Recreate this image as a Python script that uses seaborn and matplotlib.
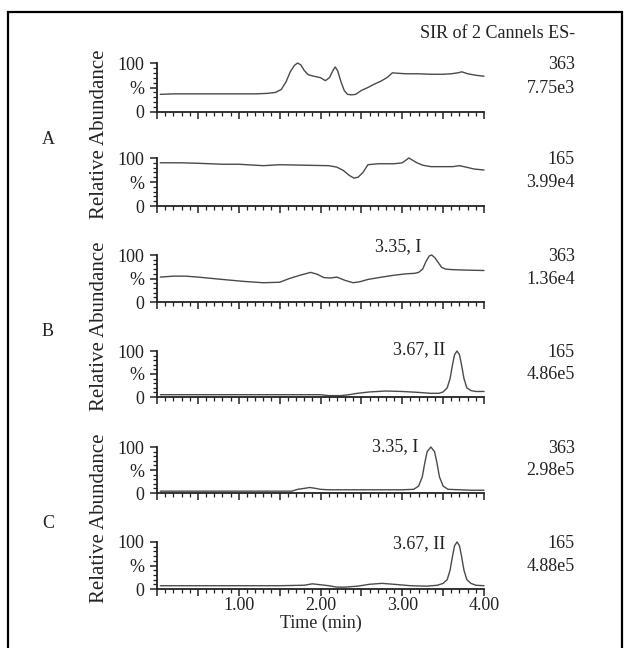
import numpy as np
import pandas as pd
import seaborn as sns
import matplotlib
matplotlib.use("Agg")
import matplotlib.pyplot as plt
from matplotlib.ticker import MultipleLocator, FuncFormatter
from matplotlib.patches import Rectangle

# ---- data (time in min, relative abundance in %) ----
t1 = [0.04, 0.2, 0.4, 0.6, 0.8, 1.0, 1.2, 1.35, 1.45, 1.52, 1.58, 1.63, 1.68, 1.72, 1.76, 1.8, 1.85, 1.92, 2.0, 2.06,
      2.11, 2.15, 2.18, 2.21, 2.25, 2.29, 2.33, 2.38, 2.43, 2.5, 2.58, 2.66, 2.74, 2.82, 2.88, 2.95, 3.05, 3.2, 3.35,
      3.5, 3.6, 3.68, 3.73, 3.8, 3.9, 4.0]
y1 = [36, 37, 37, 37, 37, 37, 37, 38, 40, 46, 62, 82, 95, 100, 96, 85, 76, 73, 70, 64,
      70, 84, 92, 84, 62, 44, 36, 35, 36, 44, 50, 57, 63, 71, 80, 79, 78, 78, 77,
      77, 78, 80, 82, 78, 75, 73]

t2 = [0.04, 0.3, 0.5, 0.8, 1.0, 1.3, 1.5, 1.8, 2.1, 2.2, 2.28, 2.35, 2.41, 2.46, 2.52, 2.58, 2.7, 2.9, 3.0, 3.05,
      3.08, 3.12, 3.18, 3.25, 3.35, 3.5, 3.62, 3.7, 3.78, 3.88, 4.0]
y2 = [90, 90, 89, 87, 87, 84, 86, 85, 84, 81, 74, 64, 58, 60, 70, 86, 88, 88, 90, 96,
      100, 96, 90, 85, 82, 82, 82, 84, 81, 77, 75]

t3 = [0.04, 0.2, 0.35, 0.5, 0.8, 1.05, 1.3, 1.5, 1.62, 1.75, 1.88, 1.96, 2.04, 2.12, 2.2, 2.3, 2.4, 2.48, 2.58, 2.75,
      2.9, 3.05, 3.15, 3.2, 3.25, 3.29, 3.33, 3.36, 3.4, 3.44, 3.48, 3.53, 3.6, 3.75, 4.0]
y3 = [53, 55, 55, 53, 48, 44, 41, 42, 50, 57, 63, 59, 52, 51, 53, 46, 41, 43, 48, 53,
      57, 60, 61, 63, 70, 86, 98, 100, 94, 84, 74, 70, 69, 68, 67]

t4 = [0.04, 0.5, 1.0, 1.5, 2.0, 2.1, 2.25, 2.35, 2.45, 2.6, 2.8, 3.0, 3.2, 3.35, 3.45, 3.5, 3.55, 3.585, 3.615, 3.64,
      3.67, 3.70, 3.725, 3.755, 3.79, 3.84, 3.9, 4.0]
y4 = [5, 5, 5, 5, 5, 3, 3, 5, 8, 11, 13, 12, 10, 8, 8, 11, 20, 40, 70, 92,
      100, 92, 70, 40, 20, 14, 12, 12]

t5 = [0.04, 0.5, 1.0, 1.5, 1.65, 1.72, 1.8, 1.87, 1.94, 2.0, 2.1, 2.5, 3.0, 3.14, 3.2, 3.245, 3.275, 3.305, 3.35, 3.395,
      3.425, 3.455, 3.5, 3.56, 3.7, 3.85, 4.0]
y5 = [4, 4, 4, 4, 4, 8, 10, 12, 10, 8, 7, 7, 7, 8, 15, 35, 65, 90, 100, 90,
      65, 35, 15, 8, 7, 6, 6]

t6 = [0.04, 0.5, 1.0, 1.5, 1.8, 1.9, 2.0, 2.1, 2.2, 2.3, 2.45, 2.6, 2.75, 2.9, 3.1, 3.3, 3.43, 3.5, 3.55, 3.585,
      3.615, 3.64, 3.67, 3.70, 3.725, 3.755, 3.79, 3.84, 3.9, 4.0]
y6 = [7, 7, 7, 7, 8, 11, 9, 7, 4, 4, 6, 10, 12, 10, 7, 6, 8, 12, 20, 40,
      70, 92, 100, 92, 70, 40, 20, 12, 8, 7]

times = [t1, t2, t3, t4, t5, t6]
values = [y1, y2, y3, y4, y5, y6]
masses = ["363", "165", "363", "165", "363", "165"]
intensities = ["7.75e3", "3.99e4", "1.36e4", "4.86e5", "2.98e5", "4.88e5"]
peak_labels = [None, None, "3.35, I", "3.67, II", "3.35, I", "3.67, II"]
group_names = ["A", "B", "C"]

sns.set_theme(style="white")
plt.rcParams['font.family'] = ['Liberation Serif', 'DejaVu Serif']
plt.rcParams['axes.edgecolor'] = '#222222'
plt.rcParams['text.color'] = '#222222'
plt.rcParams['xtick.color'] = '#222222'
plt.rcParams['ytick.color'] = '#222222'

W, H = 634, 648
fig = plt.figure(figsize=(W / 100, H / 100), dpi=100)

# panel pixel rows (top = 100 %, bottom = 0 %)
rows = [(63, 112), (158, 206), (255, 302), (351, 397), (447, 493), (542, 589)]
x0, x1 = 157, 484
lab_pos = [(3.24, 118), (3.53, 104), (3.2, 100), (3.53, 96)]

axes = []
for i, (top, bot) in enumerate(rows):
    ax = fig.add_axes([x0 / W, 1 - bot / H, (x1 - x0) / W, (bot - top) / H])
    df = pd.DataFrame({"time": times[i], "abund": values[i]})
    sns.lineplot(data=df, x="time", y="abund", ax=ax, color="#4a4a4a",
                 linewidth=1.0, sort=False, estimator=None, clip_on=False)
    ax.set_xlim(0, 4.0)
    ax.set_ylim(0, 100)
    for s in ["top", "right"]:
        ax.spines[s].set_visible(False)
    ax.spines["left"].set_linewidth(1.3)
    ax.spines["bottom"].set_linewidth(1.3)
    ax.set_xlabel("")
    ax.set_ylabel("")
    ax.xaxis.set_major_locator(MultipleLocator(0.5))
    ax.xaxis.set_minor_locator(MultipleLocator(0.1))
    ax.set_yticks([0, 50, 100])
    ax.set_yticklabels(["0", "%", "100"])
    ax.yaxis.set_minor_locator(MultipleLocator(10))
    ax.tick_params(axis="both", which="major", direction="out", length=5, width=1.1,
                   labelsize=13, left=True, bottom=True, pad=1)
    ax.tick_params(axis="y", which="major", pad=4)
    ax.tick_params(axis="both", which="minor", direction="out", length=3, width=0.9,
                   left=True, bottom=True)
    if i == 5:
        ax.xaxis.set_major_formatter(FuncFormatter(
            lambda v, p: f"{v:.2f}" if v > 0 and abs(v - round(v)) < 1e-6 else ""))
        ax.set_xlabel("Time (min)", fontsize=13, labelpad=0)
    else:
        ax.set_xticklabels([])
    ax.text(1.278, 0.97, masses[i], transform=ax.transAxes, ha="right", va="center", fontsize=13)
    ax.text(1.278, 0.48, intensities[i], transform=ax.transAxes, ha="right", va="center", fontsize=13)
    if peak_labels[i]:
        px, py = lab_pos[i - 2]
        ax.text(px, py, peak_labels[i], ha="right", va="center", fontsize=13)
    axes.append(ax)

# group letters and y labels
for g in range(3):
    top = rows[2 * g][0]
    bot = rows[2 * g + 1][1]
    mid = (top + bot) / 2
    fig.text(48 / W, 1 - (mid + 5) / H, group_names[g], ha="center", va="center", fontsize=13)
    fig.text(100 / W, 1 - mid / H, "Relative Abundance", rotation=90,
             ha="center", va="center", fontsize=15)

fig.text(575 / W, 1 - 33 / H, "SIR of 2 Cannels ES-", ha="right", va="center", fontsize=13)

# outer frame
fig.patches.append(Rectangle((8 / W, -0.05), (622 - 8) / W, 1.05 - 12 / H,
                             transform=fig.transFigure, fill=False,
                             edgecolor="black", linewidth=1.6))

fig.savefig("out.png", dpi=100)
